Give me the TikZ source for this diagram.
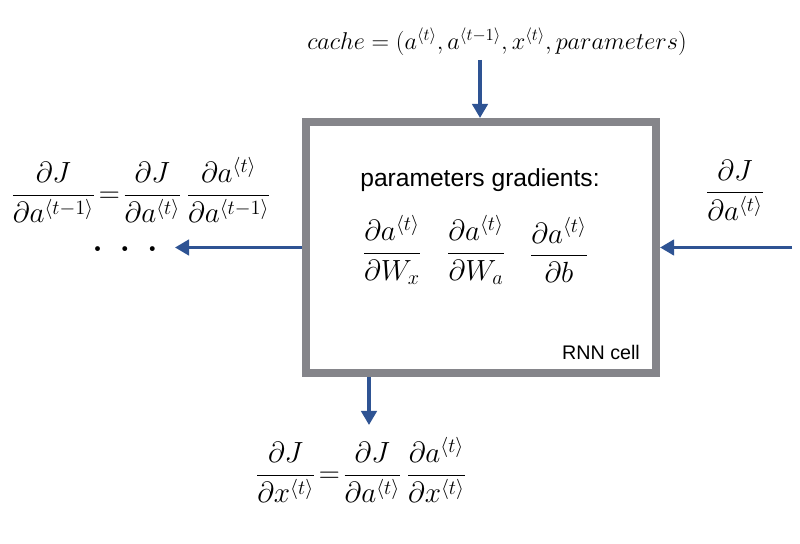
\documentclass[tikz,border=0pt]{standalone}
\usepackage{amsmath}
\usepackage{amssymb}
\usepackage{fontspec}
\setsansfont{Liberation Sans}
\usepackage{tikz}
\usetikzlibrary{positioning, arrows.meta}

\definecolor{flowblue}{HTML}{2E5393}
\definecolor{cellgray}{HTML}{85858A}

\begin{document}
\begin{tikzpicture}[x=0.025cm, y=-0.025cm,
    flow/.style={draw=flowblue, line width=2.3pt, -{Triangle[length=10pt, width=11pt]}},
    formula/.style={inner sep=0pt, font=\huge},
    label text/.style={inner sep=0pt, font=\sffamily\fontsize{17.5}{20}\selectfont}]
    \useasboundingbox (0,0) rectangle (800,544);

    \node[rectangle, draw=cellgray, line width=5.7pt, minimum width=8.75cm, minimum height=6.275cm] (cell) at (481,247.5) {};
    \node[label text] (title) at (480,180) {parameters gradients:};
    \node[inner sep=0pt, font=\sffamily\fontsize{14}{16}\selectfont] (name) at (601,352) {RNN cell};

    \node[formula] (dWx) at (392,250) {$\dfrac{\partial a^{\langle t\rangle}}{\partial W_x}$};
    \node[formula] (dWa) at (476,250) {$\dfrac{\partial a^{\langle t\rangle}}{\partial W_a}$};
    \node[formula] (db) at (559,250) {$\dfrac{\partial a^{\langle t\rangle}}{\partial b}$};

    \node[inner sep=0pt, font=\LARGE] (cache) at (497,42) {$cache=(a^{\langle t\rangle},a^{\langle t-1\rangle},x^{\langle t\rangle},parameters)$};
    \node[formula] (dprev) at (141,190) {$\dfrac{\partial J}{\partial a^{\langle t-1\rangle}}\mkern-3mu=\mkern-3mu\dfrac{\partial J}{\partial a^{\langle t\rangle}}\,\dfrac{\partial a^{\langle t\rangle}}{\partial a^{\langle t-1\rangle}}$};
    \node[inner sep=0pt, text height=4pt, text depth=0pt, anchor=base, font=\fontsize{24}{26}\selectfont\bfseries] (dots) at (125,251) {.\,\,\,.\,\,\,.};
    \node[formula] (dnext) at (735,190) {$\dfrac{\partial J}{\partial a^{\langle t\rangle}}$};
    \node[formula] (dx) at (361,470) {$\dfrac{\partial J}{\partial x^{\langle t\rangle}}\mkern-3mu=\mkern-3mu\dfrac{\partial J}{\partial a^{\langle t\rangle}}\,\dfrac{\partial a^{\langle t\rangle}}{\partial x^{\langle t\rangle}}$};

    \coordinate (cachein) at (480,60);
    \coordinate (prevout) at (175,247.5);
    \coordinate (nextin) at (792,247.5);
    \coordinate (xout) at (369,425);

    \draw[flow] (cachein) -- (cachein |- cell.north);
    \draw[flow] (cell.west) -- (prevout);
    \draw[flow] (nextin) -- (cell.east);
    \draw[flow] (cell.south -| xout) -- (xout);
\end{tikzpicture}
\end{document}
